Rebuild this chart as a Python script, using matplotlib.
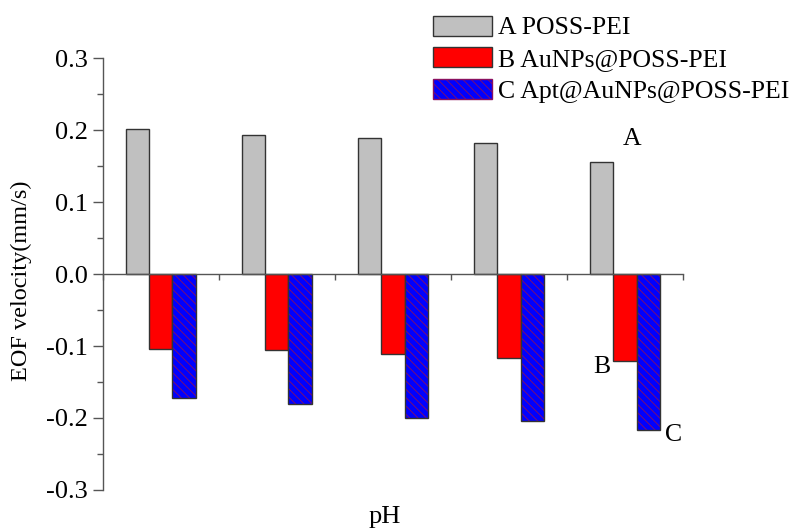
import numpy as np
import matplotlib
matplotlib.use("Agg")
import matplotlib.pyplot as plt
from matplotlib.patches import Patch

plt.rcParams['font.family'] = ['Liberation Serif', 'DejaVu Serif']
plt.rcParams['hatch.linewidth'] = 0.6

# data
groups = np.arange(5)
poss_pei = [0.201, 0.193, 0.189, 0.182, 0.155]
au_poss = [-0.104, -0.106, -0.111, -0.117, -0.121]
apt_au_poss = [-0.172, -0.181, -0.200, -0.204, -0.217]
legend_labels = ['A POSS-PEI', 'B AuNPs@POSS-PEI', 'C Apt@AuNPs@POSS-PEI']
yticks = [-0.3, -0.2, -0.1, 0.0, 0.1, 0.2, 0.3]

edge = '#333333'
hatch_col = '#8a1060'
w = 0.2

fig = plt.figure(figsize=(7.91, 5.28), dpi=100)
ax = fig.add_axes([0.130, 0.072, 0.7335, 0.818])

ax.bar(groups + 0.3, poss_pei, w, color='#c0c0c0', edgecolor=edge, linewidth=1)
ax.bar(groups + 0.5, au_poss, w, color='#ff0000', edgecolor=edge, linewidth=1)
# hatched blue bars: hatch drawn first in dark red, then the outline
ax.bar(groups + 0.7, apt_au_poss, w, color='#0000ff', edgecolor=hatch_col,
       hatch='\\\\\\\\', linewidth=0)
ax.bar(groups + 0.7, apt_au_poss, w, color='none', edgecolor=edge, linewidth=1)

ax.set_xlim(0, 5)
ax.set_ylim(-0.3, 0.3)
ax.set_yticks(yticks)
ax.set_yticklabels(['%.1f' % v for v in yticks])
ax.set_yticks(np.arange(-0.25, 0.3, 0.1), minor=True)
ax.set_xticks(np.arange(0, 6))
ax.set_xticklabels([])

for s in ['top', 'right']:
    ax.spines[s].set_visible(False)
ax.spines['bottom'].set_position(('data', 0))
for s in ['left', 'bottom']:
    ax.spines[s].set_color('#555555')
    ax.spines[s].set_linewidth(1)
ax.tick_params(axis='y', direction='out', length=7, width=1, color='#555555',
               labelsize=19, pad=4)
ax.tick_params(axis='y', which='minor', direction='out', length=4, width=1, color='#555555')
ax.tick_params(axis='x', direction='out', length=4, width=1, color='#555555')

ax.set_ylabel('EOF velocity(mm/s)', fontsize=17.5)
ax.yaxis.set_label_coords(-0.122, 0.484)
fig.text(0.486, 0.021, 'pH', fontsize=19, ha='center', va='center')

ax.text(4.56, 0.188, 'A', fontsize=18.5, ha='center', va='center')
ax.text(4.30, -0.129, 'B', fontsize=18.5, ha='center', va='center')
ax.text(4.92, -0.224, 'C', fontsize=18.5, ha='center', va='center')

handles = [
    Patch(facecolor='#c0c0c0', edgecolor=edge),
    Patch(facecolor='#ff0000', edgecolor=edge),
    Patch(facecolor='#0000ff', edgecolor=hatch_col, hatch='\\\\\\\\'),
]
fig.legend(handles, legend_labels, loc='upper left', bbox_to_anchor=(0.535, 0.99),
           frameon=False, fontsize=18.5, handlelength=2.26, handleheight=0.82,
           handletextpad=0.25, labelspacing=0.3, borderaxespad=0)

fig.savefig('out.png', dpi=100)
